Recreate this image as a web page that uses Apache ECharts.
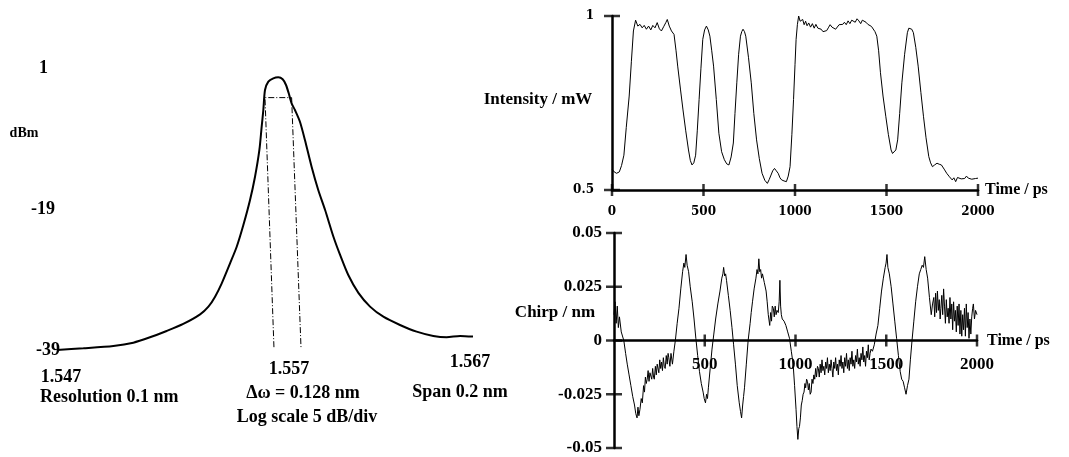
<!DOCTYPE html>
<html>
<head>
<meta charset="utf-8">
<script src="https://cdn.jsdelivr.net/npm/echarts@6/dist/echarts.min.js"></script>
<style>
html,body{margin:0;padding:0;background:#fff;}
#c{width:1069px;height:457px;}
</style>
</head>
<body>
<div id="c"></div>
<script>
// ---------- Spectrum (left) ----------
const specX = [1.5470,1.54827,1.54971,1.55067,1.55147,1.55227,1.55307,1.55388,1.55428,1.5546,1.55492,1.55532,1.55564,1.55596,1.55628,1.55652,1.55673,1.55684,1.55692,1.5570,1.55716,1.5574,1.55764,1.55785,1.55801,1.55814,1.55828,1.55844,1.55868,1.55892,1.55924,1.55956,1.55989,1.56029,1.56061,1.56101,1.56149,1.56205,1.56269,1.56349,1.56429,1.56509,1.56573,1.56638,1.567];
const specDbm = [-39.0,-38.76,-38.43,-37.96,-37.2,-36.3,-35.3,-33.94,-32.85,-31.43,-29.54,-26.7,-24.35,-21.27,-17.72,-14.42,-10.63,-7.32,-4.96,-2.12,-0.94,-0.46,-0.32,-0.6,-1.41,-2.59,-4.01,-4.96,-6.62,-9.21,-13.0,-16.3,-19.14,-22.93,-25.5,-28.4,-30.9,-32.85,-34.28,-35.45,-36.4,-37.01,-37.2,-37.0,-37.1];
const widthMarkX = [1.55743,1.5570,1.55828,1.55873];
const widthMarkY = [-38.6,-3.2,-3.2,-38.6];
const specXTicks = [1.547,1.557,1.567];
const specYTicks = [1,-19,-39];

// ---------- Intensity (top right) ----------
const intT = [0,12,25,40,52,65,78,94,106,117,129,141,153,165,176,188,200,212,223,235,247,259,270,282,294,302,313,325,339,350,359,374,388,403,418,428,437,447,457,466,476,486,496,506,516,526,535,545,555,570,584,599,614,627,639,651,663,672,682,692,702,709,716,724,731,746,761,775,790,805,820,835,849,859,869,878,888,898,908,918,927,940,953,963,973,983,992,1000,1006,1013,1020,1028,1035,1042,1050,1058,1066,1075,1085,1095,1105,1114,1125,1134,1143,1153,1163,1173,1182,1192,1202,1212,1222,1231,1241,1251,1261,1270,1280,1290,1300,1310,1320,1329,1339,1349,1359,1368,1378,1388,1398,1408,1418,1427,1437,1447,1457,1467,1481,1496,1510,1525,1533,1541,1551,1561,1572,1584,1599,1614,1622,1629,1638,1647,1660,1673,1688,1702,1716,1731,1741,1751,1763,1776,1788,1800,1815,1829,1844,1859,1868,1878,1888,1898,1908,1917,1927,1937,1947,1957,1966,1976,1986,1994,2000];
const intMw = [0.56,0.552,0.548,0.552,0.57,0.6,0.68,0.77,0.87,0.957,0.988,0.971,0.976,0.966,0.973,0.962,0.971,0.96,0.973,0.966,0.981,0.963,0.957,0.969,0.981,0.99,0.971,0.957,0.947,0.9,0.856,0.79,0.73,0.67,0.615,0.585,0.572,0.578,0.6,0.67,0.76,0.85,0.933,0.96,0.971,0.96,0.942,0.9,0.856,0.76,0.663,0.61,0.587,0.575,0.572,0.595,0.635,0.72,0.808,0.89,0.942,0.955,0.962,0.955,0.942,0.88,0.808,0.72,0.644,0.59,0.548,0.528,0.519,0.53,0.543,0.555,0.562,0.555,0.548,0.535,0.529,0.526,0.524,0.54,0.567,0.66,0.76,0.86,0.933,0.975,1.0,0.985,0.98,0.99,0.975,0.985,0.972,0.98,0.968,0.978,0.965,0.976,0.965,0.968,0.962,0.955,0.952,0.958,0.966,0.975,0.968,0.971,0.962,0.966,0.975,0.97,0.976,0.982,0.975,0.986,0.978,0.988,0.99,0.982,0.992,0.986,0.978,0.988,0.99,0.982,0.976,0.976,0.97,0.966,0.955,0.942,0.9,0.837,0.77,0.712,0.66,0.615,0.605,0.601,0.615,0.644,0.72,0.808,0.89,0.952,0.965,0.969,0.962,0.952,0.91,0.856,0.78,0.712,0.65,0.596,0.578,0.567,0.572,0.577,0.574,0.572,0.56,0.548,0.538,0.529,0.535,0.524,0.536,0.538,0.532,0.537,0.533,0.54,0.534,0.538,0.531,0.536,0.533,0.537,0.534];
const intTimeTicks = [0,500,1000,1500,2000];
const intYTicks = [0.5,1];

// ---------- Chirp (bottom right) ----------
const chirpT = [0,6,12,18,24,30,40,54,64,73,83,93,103,113,120,127,132,137,143,150,156,163,168,173,178,183,188,193,198,203,208,213,218,222,228,233,238,242,247,252,257,262,267,272,277,282,288,293,298,302,308,314,322,330,338,348,358,368,378,385,390,397,403,411,420,431,441,451,461,471,481,491,497,504,510,515,520,530,540,550,560,572,584,594,600,604,610,615,620,630,640,650,659,669,679,690,697,703,709,714,719,729,739,750,756,763,772,782,788,793,798,803,808,813,818,828,838,844,850,858,863,868,872,878,883,888,893,898,905,910,914,918,922,927,937,947,957,967,977,987,995,1003,1008,1013,1018,1022,1027,1032,1037,1042,1047,1052,1056,1061,1066,1071,1076,1081,1086,1091,1096,1101,1106,1111,1116,1121,1126,1131,1136,1141,1146,1151,1156,1161,1166,1171,1176,1181,1186,1191,1196,1201,1206,1211,1216,1221,1226,1231,1236,1241,1246,1251,1256,1261,1266,1271,1276,1281,1286,1291,1296,1301,1306,1311,1316,1321,1326,1331,1336,1341,1346,1351,1356,1361,1366,1371,1376,1381,1386,1391,1396,1401,1406,1411,1416,1424,1434,1444,1454,1464,1474,1484,1494,1499,1504,1509,1517,1527,1537,1547,1557,1567,1577,1585,1593,1601,1609,1617,1625,1633,1642,1652,1662,1672,1682,1690,1698,1705,1712,1720,1728,1738,1748,1755,1762,1767,1772,1777,1782,1787,1792,1797,1801,1806,1811,1816,1821,1826,1831,1836,1841,1846,1851,1856,1861,1866,1871,1876,1881,1886,1891,1896,1901,1906,1911,1916,1921,1926,1931,1936,1941,1946,1951,1956,1961,1966,1971,1976,1980,1986,1992,2000];
const chirpNm = [0.012,0.018,0.008,0.016,0.006,0.011,0.004,0,-0.006,-0.011,-0.016,-0.021,-0.026,-0.03,-0.034,-0.036,-0.031,-0.035,-0.032,-0.027,-0.029,-0.021,-0.024,-0.017,-0.02,-0.018,-0.014,-0.019,-0.015,-0.0145,-0.018,-0.013,-0.017,-0.018,-0.012,-0.016,-0.011,-0.011,-0.015,-0.009,-0.013,-0.01,-0.014,-0.008,-0.012,-0.013,-0.007,-0.011,-0.006,-0.008,-0.012,-0.006,-0.011,-0.005,0,0.008,0.015,0.024,0.032,0.036,0.034,0.04,0.035,0.032,0.025,0.018,0.01,0.001,-0.007,-0.0145,-0.02,-0.024,-0.027,-0.029,-0.025,-0.027,-0.022,-0.013,-0.004,0.003,0.01,0.017,0.023,0.029,0.031,0.034,0.03,0.031,0.028,0.021,0.014,0.006,-0.002,-0.011,-0.021,-0.029,-0.033,-0.036,-0.03,-0.026,-0.022,-0.011,0,0.008,0.013,0.018,0.024,0.029,0.033,0.031,0.038,0.032,0.033,0.029,0.031,0.027,0.023,0.018,0.012,0.007,0.013,0.009,0.016,0.015,0.011,0.016,0.012,0.014,0.013,0.018,0.028,0.016,0.012,0.01,0.009,0.007,0.004,0.001,-0.005,-0.011,-0.021,-0.032,-0.04,-0.046,-0.041,-0.04,-0.036,-0.03,-0.028,-0.025,-0.024,-0.02,-0.022,-0.018,-0.019,-0.023,-0.02,-0.025,-0.024,-0.018,-0.02,-0.016,-0.018,-0.013,-0.017,-0.012,-0.013,-0.017,-0.011,-0.015,-0.009,-0.014,-0.012,-0.016,-0.01,-0.013,-0.008,-0.015,-0.011,-0.014,-0.009,-0.013,-0.017,-0.01,-0.013,-0.008,-0.014,-0.011,-0.016,-0.009,-0.012,-0.007,-0.013,-0.01,-0.015,-0.008,-0.012,-0.006,-0.013,-0.009,-0.014,-0.008,-0.011,-0.005,-0.012,-0.009,-0.013,-0.007,-0.01,-0.004,-0.011,-0.008,-0.012,-0.006,-0.009,-0.003,-0.01,-0.007,-0.012,-0.005,-0.008,-0.002,-0.009,-0.006,-0.004,-0.005,-0.002,0.003,0.007,0.015,0.023,0.029,0.034,0.036,0.04,0.034,0.031,0.025,0.017,0.009,0.001,-0.007,-0.0145,-0.018,-0.019,-0.022,-0.025,-0.021,-0.018,-0.009,0,0.009,0.018,0.025,0.031,0.033,0.035,0.034,0.039,0.033,0.029,0.02,0.012,0.017,0.02,0.011,0.022,0.013,0.023,0.014,0.019,0.01,0.015,0.021,0.012,0.024,0.016,0.008,0.019,0.011,0.015,0.008,0.02,0.01,0.017,0.005,0.018,0.009,0.014,0.004,0.016,0.007,0.017,0.003,0.014,0.002,0.012,0.005,0.015,0.002,0.017,0.006,0.013,0.001,0.01,0.003,0.011,0.015,0.017,0.01,0.014,0.012];
const chirpTimeTicks = [500,1000,1500,2000];
const chirpYTicks = [-0.05,-0.025,0,0.025,0.05];

// ---------- build ----------
const pairs = (a, b) => a.map((v, i) => [v, b[i]]);
const SERIF = '"Liberation Serif","Times New Roman",serif';
const BLK = '#000';
const plain = v => String(v);

const chart = echarts.init(document.getElementById('c'), null, {renderer: 'canvas'});

const gtext = (text, x, y, size, align) => ({
  type: 'text', x: x, y: y, silent: true,
  style: {text: text, fill: BLK, font: 'bold ' + size + 'px ' + SERIF,
          align: align, textAlign: align, verticalAlign: 'middle', textVerticalAlign: 'middle'}
});

const near = (a, b) => Math.abs(a - b) < 1e-6;

// chirp grid geometry: zero line sits at the middle of the -0.05..0.05 range
const chirpGridH = 215;
const chirpZeroOffset = -chirpGridH * (0 - (-0.05)) / (0.05 - (-0.05));

chart.setOption({
  animation: false,
  backgroundColor: '#fff',
  grid: [
    {left: 57, right: 596, top: 68, bottom: 107, outerBoundsMode: 'none'},
    {left: 612, right: 91, top: 16, bottom: 267, outerBoundsMode: 'none'},
    {left: 614, right: 92, top: 233, height: chirpGridH, outerBoundsMode: 'none'}
  ],
  xAxis: [
    {gridIndex: 0, type: 'value', min: 1.547, max: 1.567,
     axisLine: {show: false}, axisTick: {show: false}, splitLine: {show: false},
     axisLabel: {customValues: specXTicks, margin: 3, color: BLK,
       fontFamily: SERIF, fontWeight: 'bold', fontSize: 18,
       formatter: v => near(v, 1.547) ? '{a|1.547}' : (near(v, 1.557) ? '{b|1.557}' : '{c|1.567}'),
       rich: {
         a: {fontFamily: SERIF, fontWeight: 'bold', fontSize: 18, color: BLK, padding: [15, 0, 0, 8]},
         b: {fontFamily: SERIF, fontWeight: 'bold', fontSize: 18, color: BLK, padding: [7, 0, 0, 48]},
         c: {fontFamily: SERIF, fontWeight: 'bold', fontSize: 18, color: BLK, padding: [0, 6, 0, 0]}
       }}},
    {gridIndex: 1, type: 'value', min: 0, max: 2000,
     axisLine: {show: true, lineStyle: {color: BLK, width: 2.5}},
     axisTick: {show: false}, splitLine: {show: false},
     axisLabel: {customValues: intTimeTicks, margin: 16, color: BLK, formatter: plain,
       fontFamily: '"DejaVu Serif",serif', fontWeight: 'bold', fontSize: 12},
     name: 'Time / ps', nameLocation: 'end', nameGap: 7,
     nameTextStyle: {color: BLK, fontFamily: SERIF, fontWeight: 'bold', fontSize: 16, padding: [0, 0, 6, 0]}},
    {gridIndex: 2, type: 'value', min: 0, max: 2000, position: 'bottom', offset: chirpZeroOffset,
     axisLine: {show: true, onZero: false, lineStyle: {color: BLK, width: 2.5}},
     axisTick: {show: false}, splitLine: {show: false},
     axisLabel: {show: true, customValues: chirpTimeTicks, margin: 16, color: BLK, formatter: plain,
       fontFamily: SERIF, fontWeight: 'bold', fontSize: 17},
     name: 'Time / ps', nameLocation: 'end', nameGap: 10,
     nameTextStyle: {color: BLK, fontFamily: SERIF, fontWeight: 'bold', fontSize: 16, padding: [0, 0, 6, 0]}}
  ],
  yAxis: [
    {gridIndex: 0, type: 'value', min: -39, max: 1,
     axisLine: {show: false}, axisTick: {show: false}, splitLine: {show: false},
     axisLabel: {customValues: specYTicks, margin: -3, color: BLK,
       fontFamily: SERIF, fontWeight: 'bold', fontSize: 18,
       formatter: v => near(v, 1) ? '{a|1}' : (near(v, -19) ? '{b|-19}' : '{c|-39}'),
       rich: {
         a: {fontFamily: SERIF, fontWeight: 'bold', fontSize: 18, color: BLK, padding: [0, 12, 0, 0]},
         b: {fontFamily: SERIF, fontWeight: 'bold', fontSize: 18, color: BLK, padding: [0, 5, 0, 0]},
         c: {fontFamily: SERIF, fontWeight: 'bold', fontSize: 18, color: BLK}
       }}},
    {gridIndex: 1, type: 'value', min: 0.5, max: 1,
     axisLine: {show: true, lineStyle: {color: BLK, width: 2.5}},
     axisTick: {show: false}, splitLine: {show: false},
     axisLabel: {customValues: intYTicks, margin: 18, color: BLK, formatter: plain,
       fontFamily: '"DejaVu Serif",serif', fontWeight: 'bold', fontSize: 12}},
    {gridIndex: 2, type: 'value', min: -0.05, max: 0.05,
     axisLine: {show: true, lineStyle: {color: BLK, width: 2.5}},
     axisTick: {show: false}, splitLine: {show: false},
     axisLabel: {customValues: chirpYTicks, margin: 12, color: BLK, formatter: plain,
       fontFamily: SERIF, fontWeight: 'bold', fontSize: 17}}
  ],
  series: [
    {type: 'line', xAxisIndex: 0, yAxisIndex: 0, data: pairs(specX, specDbm),
     showSymbol: false, smooth: 0.25, lineStyle: {color: BLK, width: 2}, silent: true},
    {type: 'line', xAxisIndex: 0, yAxisIndex: 0, data: pairs(widthMarkX, widthMarkY),
     showSymbol: false, lineStyle: {color: BLK, width: 1, type: [6, 2, 1, 2]}, silent: true},
    {type: 'line', xAxisIndex: 1, yAxisIndex: 1, data: pairs(intT, intMw),
     showSymbol: false, lineStyle: {color: BLK, width: 1}, silent: true},
    {type: 'scatter', xAxisIndex: 1, yAxisIndex: 1, data: intTimeTicks.map(t => [t, 0.5]),
     symbol: 'rect', symbolSize: [2.5, 12], itemStyle: {color: BLK}, clip: false, silent: true},
    {type: 'scatter', xAxisIndex: 1, yAxisIndex: 1, data: intYTicks.map(v => [0, v]),
     symbol: 'rect', symbolSize: [16, 2.5], itemStyle: {color: BLK}, clip: false, silent: true},
    {type: 'line', xAxisIndex: 2, yAxisIndex: 2, data: pairs(chirpT, chirpNm),
     showSymbol: false, lineStyle: {color: BLK, width: 1}, silent: true},
    {type: 'scatter', xAxisIndex: 2, yAxisIndex: 2, data: chirpTimeTicks.map(t => [t, 0]),
     symbol: 'rect', symbolSize: [2.5, 12], itemStyle: {color: BLK}, clip: false, silent: true},
    {type: 'scatter', xAxisIndex: 2, yAxisIndex: 2, data: chirpYTicks.map(v => [0, v]),
     symbol: 'rect', symbolSize: [16, 2.5], itemStyle: {color: BLK}, clip: false, silent: true}
  ],
  graphic: [
    gtext('dBm', 24, 133, 14, 'center'),
    gtext('Resolution 0.1 nm', 40, 397, 18, 'left'),
    gtext('\u0394\u03c9 = 0.128 nm', 303, 393, 18, 'center'),
    gtext('Log scale 5 dB/div', 307, 417, 18, 'center'),
    gtext('Span 0.2 nm', 460, 392, 18, 'center'),
    gtext('Intensity / mW', 538, 100, 17, 'center'),
    gtext('Chirp / nm', 555, 313, 17, 'center')
  ]
});
</script>
</body>
</html>
